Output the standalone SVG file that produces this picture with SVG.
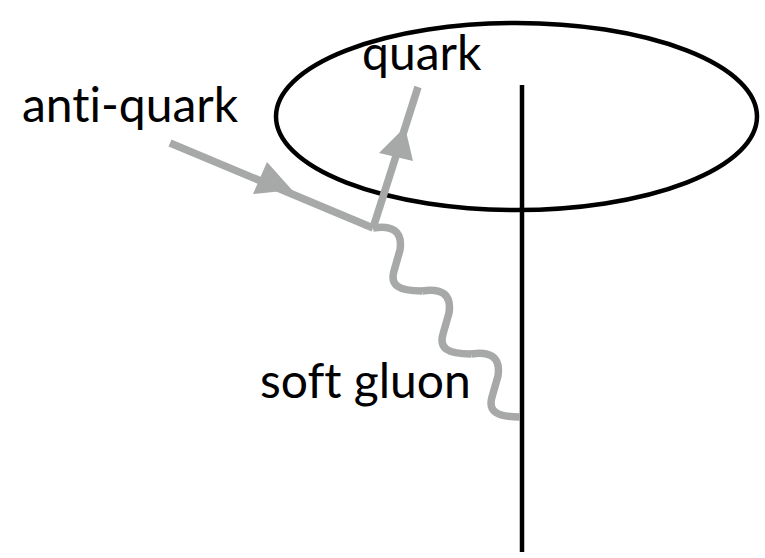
<svg xmlns="http://www.w3.org/2000/svg" xmlns:xlink="http://www.w3.org/1999/xlink" width="765" height="558" viewBox="0 0 765 558">
<style>
.lbl{font-family:Lato,"Open Sans","Liberation Sans",sans-serif;font-size:48px;fill:#000;font-variant-ligatures:none}
.blk{fill:none;stroke:#000;stroke-width:4.5}
.gry{fill:none;stroke:#a6a9a7;stroke-width:7.5}
.head{fill:#a6a9a7;stroke:none}
</style>
<defs>
<path id="wave" d="M0,0 C18,-3 30,2 27,22 L21,43 C17,57 25,63 49,63"/>
</defs>
<g id="ellipse"><ellipse class="blk" cx="516.5" cy="116.5" rx="240.5" ry="93.5"/></g>
<g id="vline"><line class="blk" x1="522" y1="85" x2="522" y2="552"/></g>
<g id="connectors">
<line class="gry" x1="170" y1="143" x2="373" y2="228"/>
<polygon class="head" points="292,190 253,194 267,162"/>
<line class="gry" x1="373" y1="228" x2="418" y2="87"/>
<polygon class="head" points="405,127 379,153 413,161"/>
<g class="gry">
<use xlink:href="#wave" transform="translate(373,228)"/>
<use xlink:href="#wave" transform="translate(422,291)"/>
<use xlink:href="#wave" transform="translate(471,354)"/>
</g>
</g>
<g id="label-quark"><text class="lbl" x="362" y="70">quark</text></g>
<g id="label-antiquark"><text class="lbl" x="22" y="122">anti-quark</text></g>
<g id="label-gluon"><text class="lbl" x="260" y="398">soft gluon</text></g>
</svg>
